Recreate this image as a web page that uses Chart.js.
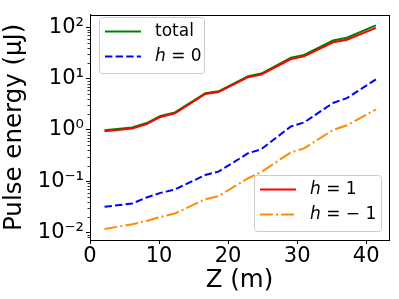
<!DOCTYPE html>
<html>
<head>
<meta charset="utf-8">
<script src="https://cdn.jsdelivr.net/npm/chart.js@4"></script>
<style>
html,body{margin:0;padding:0;background:#fff;}
canvas{display:block;}
</style>
</head>
<body>
<canvas id="c" width="399" height="299"></canvas>
<script>
// ---- data ----
const zPositions = [2.1, 6.1, 8.2, 10.2, 12.3, 16.7, 18.6, 22.9, 24.8, 29.1, 31.0, 35.2, 37.2, 41.4];
const totalEnergy = [0.98, 1.12, 1.36, 1.87, 2.2, 5.2, 5.67, 11.2, 12.6, 25.7, 29.0, 55.6, 62.8, 110];
const h0Energy    = [0.0316, 0.0366, 0.048, 0.059, 0.0687, 0.132, 0.153, 0.35, 0.42, 1.17, 1.4, 3.36, 4.17, 9.7];
const h1Energy    = [0.936, 1.07, 1.295, 1.79, 2.11, 5.02, 5.47, 10.7, 12.0, 24.2, 27.2, 51.2, 57.4, 97.8];
const hm1Energy   = [0.0116, 0.0144, 0.0167, 0.020, 0.0234, 0.0444, 0.051, 0.114, 0.15, 0.366, 0.436, 1.0, 1.23, 2.5];
const xTickValues = [0, 10, 20, 30, 40];
const yTickValues = [0.01, 0.1, 1, 10, 100];
const yTickLabels = ['10\u207B\u00B2', '10\u207B\u00B9', '10\u2070', '10\u00B9', '10\u00B2'];
const xTitle = 'Z (m)';
const yTitle = 'Pulse energy (\u03BCJ)';

const FONT = 'DejaVu Sans';
const pts = arr => zPositions.map((z, i) => ({x: z, y: arr[i]}));

const legends = [
  {x: 99, y: 17, w: 105, h: 56, items: [
    {color: 'green', dash: [], label: ['', 'total']},
    {color: 'blue', dash: [7.4, 3.2], label: ['h', ' = 0']}
  ]},
  {x: 254, y: 175, w: 127, h: 56, items: [
    {color: 'red', dash: [], label: ['h', ' = 1']},
    {color: 'darkorange', dash: [12.8, 3.2, 2, 3.2], label: ['h', ' = \u2212 1']}
  ]}
];

const extras = {
  id: 'extras',
  afterDraw(chart) {
    const ctx = chart.ctx;
    const a = chart.chartArea;
    const ys = chart.scales.y;
    ctx.save();
    // minor log ticks
    ctx.strokeStyle = '#000';
    ctx.lineWidth = 0.8;
    ctx.beginPath();
    for (let e = -3; e <= 2; e++) {
      for (let m = 2; m <= 9; m++) {
        const v = m * Math.pow(10, e);
        if (v < ys.min || v > ys.max) continue;
        const py = Math.round(ys.getPixelForValue(v)) + 0.5;
        ctx.moveTo(a.left - 2.5, py);
        ctx.lineTo(a.left, py);
      }
    }
    ctx.stroke();
    // frame
    ctx.lineWidth = 1;
    ctx.strokeStyle = '#000';
    ctx.strokeRect(Math.round(a.left) + 0.5, Math.round(a.top) + 0.5, Math.round(a.right - a.left), Math.round(a.bottom - a.top));
    // legends
    legends.forEach(L => {
      ctx.beginPath();
      ctx.roundRect(L.x + 0.5, L.y + 0.5, L.w, L.h, 3);
      ctx.fillStyle = 'rgba(255,255,255,0.8)';
      ctx.fill();
      ctx.strokeStyle = '#cccccc';
      ctx.lineWidth = 1;
      ctx.stroke();
      L.items.forEach((it, i) => {
        const cy = L.y + 14.5 + i * 25;
        ctx.beginPath();
        ctx.setLineDash(it.dash);
        ctx.strokeStyle = it.color;
        ctx.lineWidth = 2;
        ctx.moveTo(L.x + 6, cy);
        ctx.lineTo(L.x + 42, cy);
        ctx.stroke();
        ctx.setLineDash([]);
        ctx.fillStyle = '#000';
        ctx.textBaseline = 'middle';
        ctx.textAlign = 'left';
        let tx = L.x + 56;
        if (it.label[0]) {
          ctx.font = 'italic 17px "' + FONT + '"';
          ctx.fillText(it.label[0], tx, cy);
          tx += ctx.measureText(it.label[0]).width;
        }
        ctx.font = '17px "' + FONT + '"';
        ctx.fillText(it.label[1], tx, cy);
      });
    });
    ctx.restore();
  }
};

new Chart(document.getElementById('c'), {
  type: 'line',
  data: {
    datasets: [
      {label: 'h = 1', data: pts(h1Energy), borderColor: 'red', borderWidth: 2},
      {label: 'total', data: pts(totalEnergy), borderColor: 'green', borderWidth: 2},
      {label: 'h = 0', data: pts(h0Energy), borderColor: 'blue', borderWidth: 2, borderDash: [7.4, 3.2]},
      {label: 'h = -1', data: pts(hm1Energy), borderColor: 'darkorange', borderWidth: 2, borderDash: [12.8, 3.2, 2, 3.2]}
    ]
  },
  options: {
    responsive: false,
    animation: false,
    devicePixelRatio: 1,
    elements: {point: {radius: 0}, line: {tension: 0, fill: false}},
    layout: {padding: {left: 0, right: 10, top: 8, bottom: 0}},
    plugins: {legend: {display: false}, tooltip: {enabled: false}},
    scales: {
      x: {
        type: 'linear', min: 0, max: 43.3,
        afterBuildTicks: s => { s.ticks = xTickValues.map(v => ({value: v})); },
        afterFit: s => { s.height = 59; },
        grid: {drawOnChartArea: false, drawTicks: true, tickLength: 4, color: '#000'},
        border: {display: true, color: '#000', width: 1},
        ticks: {color: '#000', font: {family: FONT, size: 21}, padding: 0, maxRotation: 0},
        title: {display: true, text: xTitle, color: '#000', font: {family: FONT, size: 24.5}, padding: {top: 0, bottom: 4}}
      },
      y: {
        type: 'logarithmic', min: 0.0071, max: 178,
        afterBuildTicks: s => { s.ticks = yTickValues.map(v => ({value: v})); },
        afterFit: s => { s.width = 90; },
        grid: {drawOnChartArea: false, drawTicks: true, tickLength: 4, color: '#000'},
        border: {display: true, color: '#000', width: 1},
        ticks: {color: '#000', font: {family: FONT, size: 21}, padding: 2,
          callback: v => { const i = yTickValues.indexOf(v); return i >= 0 ? yTickLabels[i] : ''; }},
        title: {display: true, text: yTitle, color: '#000', font: {family: FONT, size: 24.5}, padding: {top: 0, bottom: 0}}
      }
    }
  },
  plugins: [extras]
});
</script>
</body>
</html>
